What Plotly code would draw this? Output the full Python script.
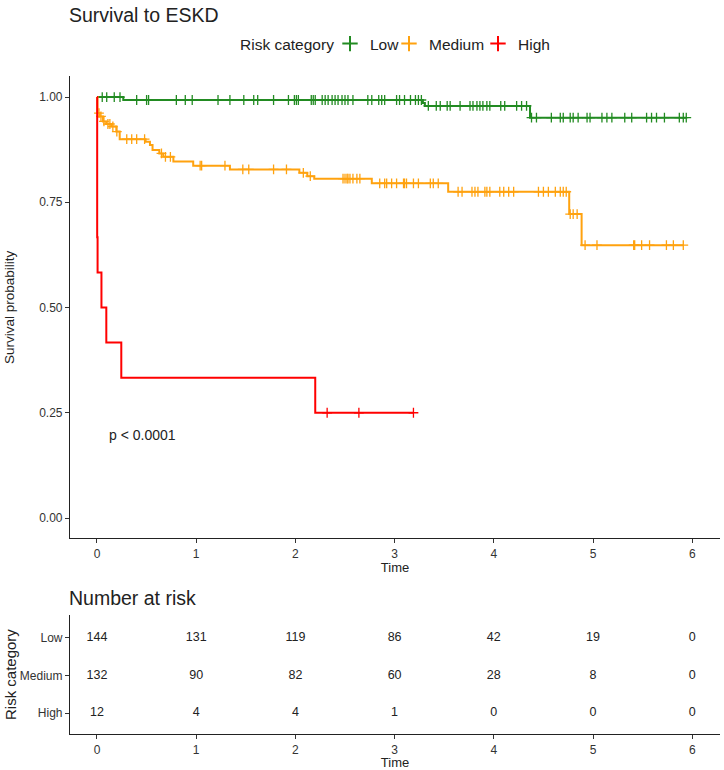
import numpy as np
import plotly.graph_objects as go

# ---------------- data ----------------
groups = ["Low", "Medium", "High"]
colors = {"Low": "#228B22", "Medium": "#FFA20F", "High": "#FF0000"}

low_time = [0.0, 0.265, 3.285, 3.305, 4.365, 5.94]
low_surv = [1.0, 0.993, 0.986, 0.979, 0.951, 0.951]
low_censor = [0.053, 0.098, 0.174, 0.232, 0.40, 0.50, 0.52, 0.80, 0.89, 0.96, 1.22, 1.34,
              1.48, 1.58, 1.62, 1.78, 1.93, 1.99, 2.01, 2.03, 2.16, 2.18, 2.20, 2.27, 2.30,
              2.33, 2.37, 2.40, 2.43, 2.47, 2.50, 2.53, 2.58, 2.73, 2.77, 2.84, 2.87, 2.90,
              3.02, 3.05, 3.10, 3.16, 3.21, 3.24, 3.27, 3.34, 3.42, 3.46, 3.53, 3.56, 3.66,
              3.76, 3.79, 3.83, 3.86, 3.89, 3.93, 3.96, 4.07, 4.11, 4.23, 4.28, 4.33, 4.38,
              4.43, 4.58, 4.67, 4.70, 4.77, 4.80, 4.85, 4.94, 4.97, 5.09, 5.14, 5.19, 5.32,
              5.39, 5.54, 5.59, 5.64, 5.72, 5.87, 5.91, 5.94]

med_time = [0.0, 0.005, 0.027, 0.06, 0.094, 0.144, 0.195, 0.229, 0.49, 0.534, 0.56, 0.628,
            0.668, 0.77, 0.97, 1.34, 2.04, 2.12, 2.19, 2.77, 3.54, 4.76, 4.885, 5.91]
med_surv = [1.0, 0.962, 0.954, 0.942, 0.936, 0.930, 0.918, 0.900, 0.894, 0.886, 0.874, 0.866,
            0.858, 0.847, 0.837, 0.828, 0.820, 0.812, 0.806, 0.795, 0.775, 0.722, 0.648, 0.648]
med_censor = [0.02, 0.04, 0.07, 0.11, 0.13, 0.16, 0.20, 0.30, 0.35, 0.40, 0.48, 0.65, 0.69,
              0.74, 1.04, 1.055, 1.29, 1.47, 1.53, 1.78, 1.91, 2.08, 2.15, 2.48, 2.50, 2.52,
              2.53, 2.55, 2.58, 2.62, 2.65, 2.85, 2.90, 2.92, 2.97, 3.02, 3.09, 3.10, 3.12,
              3.19, 3.24, 3.36, 3.39, 3.44, 3.64, 3.68, 3.78, 3.81, 3.84, 3.91, 3.93, 3.96,
              4.06, 4.10, 4.15, 4.20, 4.45, 4.50, 4.55, 4.62, 4.67, 4.70, 4.73, 4.77, 4.80,
              4.84, 4.92, 5.04, 5.41, 5.42, 5.49, 5.57, 5.74, 5.81, 5.91]

high_time = [0.0, 0.002, 0.006, 0.045, 0.094, 0.245, 2.20, 3.19]
high_surv = [1.0, 0.667, 0.583, 0.500, 0.417, 0.333, 0.250, 0.250]
high_censor = [2.32, 2.64, 3.19]

risk_times = [0, 1, 2, 3, 4, 5, 6]
risk_low = [144, 131, 119, 86, 42, 19, 0]
risk_medium = [132, 90, 82, 60, 28, 8, 0]
risk_high = [12, 4, 4, 1, 0, 0, 0]

x_ticks = [0, 1, 2, 3, 4, 5, 6]
y_ticks = [0, 0.25, 0.5, 0.75, 1.0]
y_ticktext = ["0.00", "0.25", "0.50", "0.75", "1.00"]

curves = {
    "Low": (low_time, low_surv, low_censor),
    "Medium": (med_time, med_surv, med_censor),
    "High": (high_time, high_surv, high_censor),
}
risk = {"Low": risk_low, "Medium": risk_medium, "High": risk_high}
risk_row = {"Low": 3, "Medium": 2, "High": 1}
legend_ids = {"Low": "legend", "Medium": "legend2", "High": "legend3"}
legend_glyph_px = {"Low": 350, "Medium": 409, "High": 498}

FONT = "Liberation Sans, Arial, sans-serif"
W, H = 724, 770
ML, MR = 70, 4


def py(pix):
    return 1 - pix / H


def px(pix):
    return (pix - ML) / (W - ML - MR)


fig = go.Figure()

for g in groups:
    t, s, c = curves[g]
    fig.add_trace(go.Scatter(x=t, y=s, mode="lines", line=dict(color=colors[g], width=2, shape="hv"),
                             showlegend=False, hoverinfo="skip", xaxis="x", yaxis="y"))
    tt = np.array(t)
    ss = np.array(s)
    idx = np.searchsorted(tt, np.array(c), side="right") - 1
    fig.add_trace(go.Scatter(x=c, y=ss[idx], mode="markers",
                             marker=dict(symbol="cross-thin", size=7,
                                         line=dict(color=colors[g], width=1.3)),
                             showlegend=False, hoverinfo="skip", xaxis="x", yaxis="y"))

# legend entries (one small legend per group so they can sit tightly like the original)
for g in groups:
    fig.add_trace(go.Scatter(x=[None], y=[None], mode="markers", name=g,
                             legend=legend_ids[g],
                             marker=dict(symbol="cross-thin", size=11,
                                         line=dict(color=colors[g], width=2)),
                             xaxis="x", yaxis="y"))

# risk table
for g in groups:
    fig.add_trace(go.Scatter(x=risk_times, y=[risk_row[g]] * len(risk_times), mode="text",
                             text=[str(v) for v in risk[g]],
                             textfont=dict(family=FONT, size=12.5, color="#222222"),
                             showlegend=False, hoverinfo="skip", xaxis="x2", yaxis="y2"))

axis_common = dict(showline=True, linecolor="#222222", linewidth=1.2, ticks="outside",
                   ticklen=4, tickcolor="#333333", showgrid=False, zeroline=False,
                   automargin=False,
                   tickfont=dict(family=FONT, size=12, color="#333333"))

legend_common = dict(orientation="h", xanchor="left", y=py(44), yanchor="middle",
                     font=dict(family=FONT, size=15.5, color="#222222"), itemwidth=30,
                     bgcolor="rgba(0,0,0,0)", borderwidth=0)

fig.update_layout(
    width=W, height=H,
    margin=dict(l=ML, r=MR, t=0, b=0, autoexpand=False),
    paper_bgcolor="white", plot_bgcolor="white",
    font=dict(family=FONT, color="#222222"),
    xaxis=dict(domain=[0, 1], range=[-0.272, 6.28], tickvals=x_ticks, anchor="y",
               title=dict(text="Time", font=dict(size=13), standoff=1), **axis_common),
    yaxis=dict(domain=[py(538), py(76)], range=[-0.0475, 1.05], tickvals=y_ticks,
               ticktext=y_ticktext, anchor="x", **axis_common),
    xaxis2=dict(domain=[0, 1], range=[-0.272, 6.28], tickvals=x_ticks, anchor="y2",
                title=dict(text="Time", font=dict(size=13), standoff=1), **axis_common),
    yaxis2=dict(domain=[py(734), py(615)], range=[0.44, 3.613], tickvals=[1, 2, 3],
                ticktext=["High", "Medium", "Low"], anchor="x2", **axis_common),
    legend=dict(x=px(legend_glyph_px["Low"] - 20), **legend_common),
    legend2=dict(x=px(legend_glyph_px["Medium"] - 20), **legend_common),
    legend3=dict(x=px(legend_glyph_px["High"] - 20), **legend_common),
    annotations=[
        dict(text="Risk category", x=px(336), y=py(44), xref="paper", yref="paper",
             xanchor="right", yanchor="middle", showarrow=False,
             font=dict(size=15.5, family=FONT, color="#222222")),
        dict(text="Survival to ESKD", x=px(67), y=py(15), xref="paper", yref="paper",
             xanchor="left", yanchor="middle", showarrow=False,
             font=dict(size=19.5, family=FONT, color="#222222")),
        dict(text="Number at risk", x=px(67), y=py(598), xref="paper", yref="paper",
             xanchor="left", yanchor="middle", showarrow=False,
             font=dict(size=19.5, family=FONT, color="#222222")),
        dict(text="p < 0.0001", x=0.1, y=0.197, xref="x", yref="y",
             xanchor="left", yanchor="middle", showarrow=False,
             font=dict(size=14, family=FONT, color="#222222")),
        # y-axis titles
        dict(text="Survival probability", x=px(9), y=py(307), xref="paper", yref="paper",
             xanchor="center", yanchor="middle", textangle=-90, showarrow=False,
             font=dict(size=13.5, family=FONT, color="#222222")),
        dict(text="Risk category", x=px(10), y=py(675), xref="paper", yref="paper",
             xanchor="center", yanchor="middle", textangle=-90, showarrow=False,
             font=dict(size=15, family=FONT, color="#222222")),
    ],
)

# the page body normally has an 8px margin; remove it so the 724x770 figure fills the window
fig.write_html("out.html", config={"displayModeBar": False},
               post_script="document.body.style.margin='0';")
